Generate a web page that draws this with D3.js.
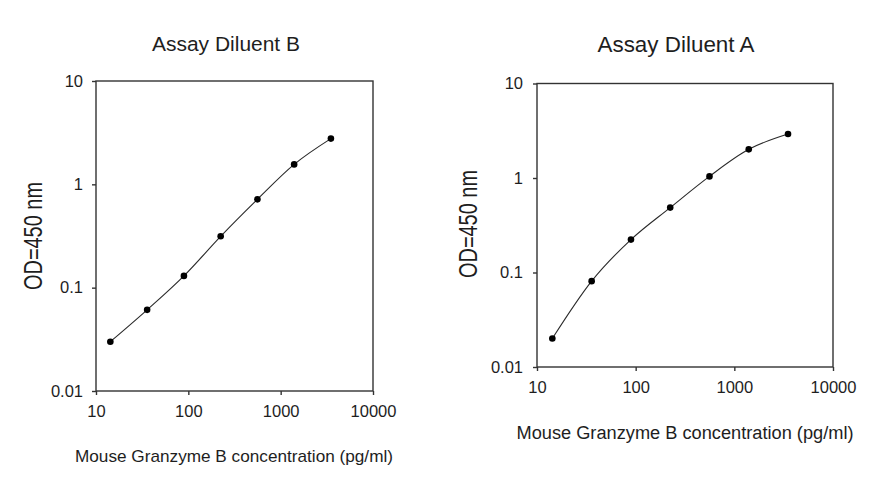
<!DOCTYPE html>
<html>
<head>
<meta charset="utf-8">
<script src="https://cdn.jsdelivr.net/npm/d3@7"></script>
<style>
  body { margin: 0; background: #fff; }
  svg { display: block; }
  text { font-family: Arial, "Liberation Sans", sans-serif; fill: #1e1e1e; }
</style>
</head>
<body>
<div id="chart"></div>
<script>
// data
var concentration = [14.3, 35.8, 89.6, 224, 560, 1400, 3500];
var odDiluentB = [0.030, 0.061, 0.130, 0.314, 0.716, 1.56, 2.77];
var odDiluentA = [0.020, 0.081, 0.223, 0.486, 1.04, 2.01, 2.92];
var panelTitles = ["Assay Diluent B", "Assay Diluent A"];
var xTickValues = [10, 100, 1000, 10000];
var xTickLabels = ["10", "100", "1000", "10000"];
var yTickValues = [0.01, 0.1, 1, 10];
var yTickLabels = ["0.01", "0.1", "1", "10"];
var xTitle = "Mouse Granzyme B concentration (pg/ml)";
var yTitle = "OD=450 nm";

var svgWidth = 891;
var svgHeight = 491;

var svg = d3.select("#chart")
  .append("svg")
  .attr("width", svgWidth)
  .attr("height", svgHeight);

// layout of the two panels
var panels = [
  { left: 96, right: 373, top: 81, bottom: 391, values: odDiluentB, title: panelTitles[0],
    titleX: 226, titleY: 51, titleSize: 20.5, titleLen: 148,
    xLabX: 234, xLabY: 462, xLabSize: 17, xLabLen: 318,
    yLabX: 42, yLabY: 236, xPad: 10, yPad: 9 },
  { left: 537, right: 833, top: 83.5, bottom: 367, values: odDiluentA, title: panelTitles[1],
    titleX: 676, titleY: 52, titleSize: 22, titleLen: 157,
    xLabX: 685, xLabY: 439, xLabSize: 18, xLabLen: 337,
    yLabX: 477, yLabY: 224, xPad: 10, yPad: 10 }
];

function drawPanel(p) {
  var g = svg.append("g");

  var x = d3.scaleLog().domain([10, 10000]).range([p.left, p.right]);
  var y = d3.scaleLog().domain([0.01, 10]).range([p.bottom, p.top]);

  // frame
  g.append("rect")
    .attr("x", p.left)
    .attr("y", p.top)
    .attr("width", p.right - p.left)
    .attr("height", p.bottom - p.top)
    .attr("fill", "none")
    .attr("stroke", "#333")
    .attr("stroke-width", 1.4);

  var bottomAxis = d3.axisBottom(x)
    .tickValues(xTickValues)
    .tickFormat(function(d, i) { return xTickLabels[i]; })
    .tickSize(4)
    .tickPadding(p.xPad);

  var leftAxis = d3.axisLeft(y)
    .tickValues(yTickValues)
    .tickFormat(function(d, i) { return yTickLabels[i]; })
    .tickSize(4)
    .tickPadding(p.yPad);

  var xAxis = g.append("g")
    .attr("transform", `translate(0, ${p.bottom})`)
    .call(bottomAxis);

  var yAxis = g.append("g")
    .attr("transform", `translate(${p.left}, 0)`)
    .call(leftAxis);

  [xAxis, yAxis].forEach(function(a) {
    a.attr("font-size", 16.5).attr("font-family", "Arial, 'Liberation Sans', sans-serif");
    a.select(".domain").remove();
    a.selectAll("line").attr("stroke", "#333").attr("stroke-width", 1.4);
    a.selectAll("text").attr("fill", "#1e1e1e");
  });

  // curve through the standards
  var pts = concentration.map(function(c, i) { return [x(c), y(p.values[i])]; });

  g.append("path")
    .attr("d", d3.line().curve(d3.curveMonotoneX)(pts))
    .attr("fill", "none")
    .attr("stroke", "#2a2a2a")
    .attr("stroke-width", 1.1);

  g.selectAll("circle")
    .data(p.values)
    .enter()
    .append("circle")
    .attr("cx", function(d, i) { return x(concentration[i]); })
    .attr("cy", function(d) { return y(d); })
    .attr("r", 3.3)
    .attr("fill", "#000");

  // titles
  g.append("text")
    .attr("x", p.titleX)
    .attr("y", p.titleY)
    .attr("text-anchor", "middle")
    .attr("font-size", p.titleSize)
    .attr("textLength", p.titleLen)
    .attr("lengthAdjust", "spacingAndGlyphs")
    .text(p.title);

  g.append("text")
    .attr("x", p.xLabX)
    .attr("y", p.xLabY)
    .attr("text-anchor", "middle")
    .attr("font-size", p.xLabSize)
    .attr("textLength", p.xLabLen)
    .attr("lengthAdjust", "spacingAndGlyphs")
    .text(xTitle);

  g.append("text")
    .attr("transform", `translate(${p.yLabX}, ${p.yLabY}) rotate(-90)`)
    .attr("text-anchor", "middle")
    .attr("font-size", 25)
    .attr("textLength", 108)
    .attr("lengthAdjust", "spacingAndGlyphs")
    .text(yTitle);
}

panels.forEach(drawPanel);
</script>
</body>
</html>
